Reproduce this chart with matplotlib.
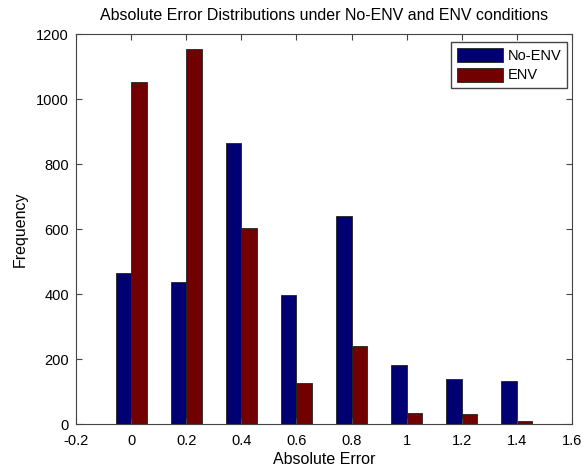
import numpy as np
from matplotlib import pyplot as plt

plt.rcParams['font.family'] = ['Liberation Sans', 'DejaVu Sans']

# data
bins = [0, 0.2, 0.4, 0.6, 0.8, 1.0, 1.2, 1.4]
no_env = [464, 436, 864, 397, 640, 181, 139, 132]
env = [1053, 1155, 603, 125, 240, 35, 31, 10]
xticks = [-0.2, 0, 0.2, 0.4, 0.6, 0.8, 1, 1.2, 1.4, 1.6]
xtick_labels = ['-0.2', '0', '0.2', '0.4', '0.6', '0.8', '1', '1.2', '1.4', '1.6']
yticks = [0, 200, 400, 600, 800, 1000, 1200]

fig = plt.figure(figsize=(5.87, 4.68), dpi=100)
ax = fig.add_axes([0.1295, 0.094, 0.845, 0.833])

w = 0.056
x = np.array(bins)
ax.bar(x - w / 2, no_env, w, color='#000072', edgecolor='#222222',
       linewidth=0.6, label='No-ENV')
ax.bar(x + w / 2, env, w, color='#720000', edgecolor='#222222',
       linewidth=0.6, label='ENV')

ax.set_xlim(-0.2, 1.6)
ax.set_ylim(0, 1200)
ax.set_xticks(xticks)
ax.set_xticklabels(xtick_labels)
ax.set_yticks(yticks)
ax.tick_params(direction='in', top=True, right=True, labelsize=10.5,
               length=4, color='#444444')
ax.tick_params(axis='x', pad=7)
ax.tick_params(axis='y', pad=5)
for s in ax.spines.values():
    s.set_color('#444444')

ax.set_title('Absolute Error Distributions under No-ENV and ENV conditions',
             fontsize=11.5, pad=10)
ax.set_xlabel('Absolute Error', fontsize=11.5, labelpad=3)
ax.set_ylabel('Frequency', fontsize=11.5, labelpad=6)

leg = ax.legend(loc='upper right', fontsize=10.5, fancybox=False,
                framealpha=1, edgecolor='#444444', handlelength=3.15,
                handleheight=1.1, borderpad=0.4, labelspacing=0.3,
                handletextpad=0.3, borderaxespad=0,
                bbox_to_anchor=(0.99, 0.979))

fig.savefig('out.png', dpi=100)
